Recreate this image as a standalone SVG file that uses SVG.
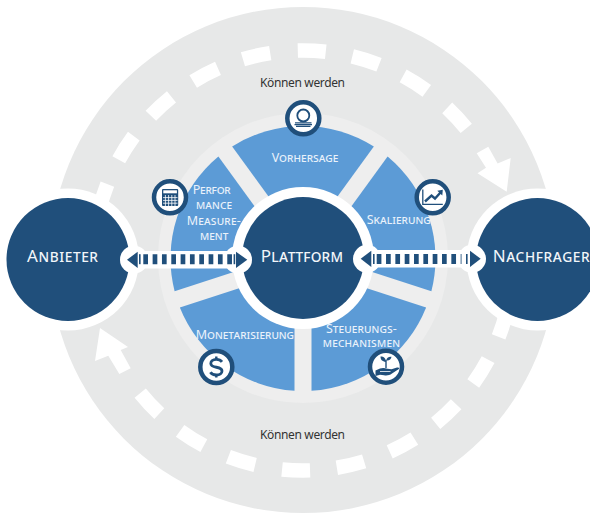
<svg xmlns="http://www.w3.org/2000/svg" xmlns:xlink="http://www.w3.org/1999/xlink" width="590" height="514" viewBox="0 0 590 514">
<style>
text{font-family:"Noto Sans","Open Sans","Liberation Sans",sans-serif}
.sc{font-variant:small-caps;fill:#eaf2fb;font-size:12.5px}
.big{font-variant:small-caps;fill:#f2f6fa;font-size:17px}
.note{fill:#333;font-size:12px}
.seg{fill:#5c9bd6}
.halo{fill:#fff}
.dark{fill:#204f7b}
.ic{fill:#fff;stroke:#204f7b;stroke-width:4.5}
.dl{fill:none;stroke:#204f7b;stroke-width:1.3}
.bar{fill:none;stroke:#204f7b;stroke-width:10;stroke-dasharray:4.7 4.63}
.tick{fill:none;stroke:#fff;stroke-width:14.5}
</style>
<defs>
<path id="d" class="tick" d="M289 50.97A210 210 0 0 1 317 50.97"/>
</defs>
<g id="cycle">
<circle cx="303" cy="260" r="253" fill="#e7e8e8"/>
<g>
<use href="#d" transform="rotate(-72.5 303 260.5)"/>
<use href="#d" transform="rotate(-57.5 303 260.5)"/>
<use href="#d" transform="rotate(-42.6 303 260.5)"/>
<use href="#d" transform="rotate(-27.7 303 260.5)"/>
<use href="#d" transform="rotate(-12.8 303 260.5)"/>
<use href="#d" transform="rotate(2.4 303 260.5)"/>
<use href="#d" transform="rotate(17.4 303 260.5)"/>
<use href="#d" transform="rotate(32.3 303 260.5)"/>
<use href="#d" transform="rotate(47.2 303 260.5)"/>
<use href="#d" transform="rotate(107.5 303 260.5)"/>
<use href="#d" transform="rotate(122 303 260.5)"/>
<use href="#d" transform="rotate(137 303 260.5)"/>
<use href="#d" transform="rotate(151.8 303 260.5)"/>
<use href="#d" transform="rotate(166.9 303 260.5)"/>
<use href="#d" transform="rotate(181.9 303 260.5)"/>
<use href="#d" transform="rotate(197 303 260.5)"/>
<use href="#d" transform="rotate(212 303 260.5)"/>
<use href="#d" transform="rotate(227 303 260.5)"/>
</g>
<polygon class="halo" points="476.7,153.3 488.3,146.7 497.6,163.5 510.7,158 506.7,191.7 477.5,173.3 486,167.8"/>
<polygon class="halo" points="100,328 128,347 120.7,350 130.7,368.3 119.3,374 108.3,355.7 95,361"/>
<text class="note" x="260" y="86.5" textLength="85">Können werden</text>
<text class="note" x="260" y="439.3" textLength="85">Können werden</text>
<circle cx="303" cy="258" r="145" fill="#eeeeee"/>
</g>
<g id="seg-vorhersage">
<path class="seg" d="M232.16 146.53A132.5 132.5 0 0 1 373.84 146.53L303 244.04Z"/>
<text class="sc" x="271.7" y="162.3" textLength="66.6">Vorhersage</text>
</g>
<g id="seg-skalierung">
<path class="seg" d="M387.6 156.53A132.5 132.5 0 0 1 431.38 291.27L316.75 254.03Z"/>
<text class="sc" x="366.7" y="224.3" textLength="64">Skalierung</text>
</g>
<g id="seg-steuerung">
<path class="seg" d="M426.13 307.45A132.5 132.5 0 0 1 311.5 390.73L311.5 270.2Z"/>
<text class="sc" x="326" y="333.3" textLength="70.7">Steuerungs-</text>
<text class="sc" x="322.7" y="347.3" textLength="77.3">mechanismen</text>
</g>
<g id="seg-monetarisierung">
<path class="seg" d="M294.5 390.73A132.5 132.5 0 0 1 179.87 307.45L294.5 270.2Z"/>
<text class="sc" x="195.7" y="339" textLength="98.3">Monetarisierung</text>
</g>
<g id="seg-performance">
<path class="seg" d="M174.62 291.27A132.5 132.5 0 0 1 218.4 156.53L289.25 254.03Z"/>
<text class="sc" x="192.7" y="193.7" textLength="38">Perfor</text>
<text class="sc" x="196" y="209" textLength="36">mance</text>
<text class="sc" x="186.7" y="225" textLength="54">Measure-</text>
<text class="sc" x="200" y="240" textLength="28.3">ment</text>
</g>
<g id="node-anbieter">
<circle class="halo" cx="68" cy="259.5" r="71"/>
<circle class="dark" cx="68" cy="259.5" r="61.5"/>
</g>
<g id="node-plattform">
<circle class="halo" cx="303" cy="258" r="71"/>
<circle class="dark" cx="303" cy="258" r="61"/>
</g>
<g id="node-nachfrager">
<circle class="halo" cx="537.5" cy="259.5" r="71"/>
<circle class="dark" cx="537.5" cy="259.5" r="61.5"/>
</g>
<g id="connectors">
<g id="conn-left">
<rect class="halo" x="134" y="251" width="104" height="17.5"/>
<circle class="halo" cx="134" cy="259.7" r="14"/>
<circle class="halo" cx="238" cy="259.7" r="14"/>
<polygon class="dark" points="127,259.8 137.7,251.7 137.7,268"/>
<polygon class="dark" points="247.3,259.8 236,251.7 236,268"/>
<line class="bar" x1="143.3" y1="259.2" x2="232" y2="259.2"/>
<rect class="dark" x="139" y="254.2" width="1.6" height="10"/>
<rect class="dark" x="233.6" y="254.2" width="1.6" height="10"/>
</g>
<g id="conn-right">
<rect class="halo" x="367" y="250" width="105" height="17.5"/>
<circle class="halo" cx="367" cy="258.8" r="14"/>
<circle class="halo" cx="472" cy="258.8" r="14"/>
<polygon class="dark" points="360.7,258.8 371.3,250.7 371.3,267"/>
<polygon class="dark" points="480.7,258.8 470,250.7 470,267"/>
<line class="bar" x1="376.7" y1="259" x2="461.5" y2="259"/>
<rect class="dark" x="373" y="254" width="1.6" height="10"/>
<rect class="dark" x="466" y="254" width="1.6" height="10"/>
</g>
</g>
<text class="big" x="27" y="261.7" textLength="71">Anbieter</text>
<text class="big" x="260.7" y="262" textLength="82.3">Plattform</text>
<text class="big" x="492.7" y="261.7" textLength="97">Nachfrager</text>
<g id="icon-forecast">
<circle class="ic" cx="303.3" cy="118.3" r="16"/>
<circle cx="303.3" cy="115.5" r="6" fill="none" stroke="#204f7b" stroke-width="1.8"/>
<path class="dl" d="M295 122.8H311.5M294.5 124.6H312M296 126.4H310.5"/>
</g>
<g id="icon-calculator">
<circle class="ic" cx="170" cy="197.3" r="16"/>
<rect class="dark" x="162" y="189" width="16.2" height="17" rx="1"/>
<rect class="halo" x="163.3" y="190.3" width="13.6" height="3"/>
<path fill="none" stroke="#fff" stroke-width=".8" d="M165.4 195V206M168.6 195V206M171.8 195V206M175 195V206M163 197.6H177.5M163 200.4H177.5M163 203.2H177.5"/>
</g>
<g id="icon-chart">
<circle class="ic" cx="432.7" cy="197.3" r="16"/>
<path class="dl" d="M422.8 189.5V204.3H442.8"/>
<path fill="none" stroke="#204f7b" stroke-width="2.4" d="M425 201.5L431.5 195.5L435 198.5L440.5 192.5"/>
<polygon class="dark" points="442.8,189.8 442.3,195.5 437.3,190.8"/>
</g>
<g id="icon-dollar">
<circle class="ic" cx="216.3" cy="367" r="16"/>
<path fill="none" stroke="#204f7b" stroke-width="2.8" d="M222 361.8C220.5 359.8 218.5 359.3 216.3 359.3C212.8 359.3 210.8 361.2 210.8 363.5C210.8 369 222 365.5 222 371C222 373.3 219.8 375 216.3 375C213.8 375 211.6 374.2 210.4 372.2"/>
<path fill="none" stroke="#204f7b" stroke-width="2.4" d="M216.3 356.5V359.5M216.3 374.5V377.5"/>
</g>
<g id="icon-plant">
<circle class="ic" cx="386" cy="366.7" r="16"/>
<path fill="none" stroke="#204f7b" stroke-width="1.4" d="M386 368V360"/>
<path class="dark" d="M386 362C382 361.5 380.5 359.5 380.5 356.5C384 356.5 386 358.5 386 362ZM386.2 360.5C386.5 358 388.5 356.5 391.5 356.8C391.2 359.5 389 361 386.2 360.5Z"/>
<path class="dark" d="M375.5 370.5L380 368.5C382.5 367.5 385 367.8 387.5 368.8L391.5 369.3L397 367.5C399 367 400 368.2 398.5 369.2L392 373.5C389.5 375.3 387 375.8 384 375.3L380 374.7L375.5 376Z"/>
<path fill="none" stroke="#fff" stroke-width=".8" d="M380 371.5H390.5"/>
</g>
</svg>
